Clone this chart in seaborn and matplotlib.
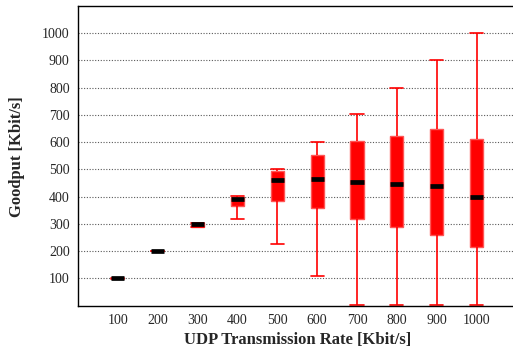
import numpy as np
import pandas as pd
import matplotlib
matplotlib.use("Agg")
import matplotlib.pyplot as plt
import seaborn as sns

rates = [100, 200, 300, 400, 500, 600, 700, 800, 900, 1000]
w_low = [99, 199, 288, 319, 225, 110, 2, 2, 2, 2]
q1 = [99.5, 199.5, 290, 365, 384, 359, 318, 290, 259, 214]
median = [100, 200, 298, 392, 460, 464, 455, 447, 439, 400]
q3 = [100.5, 200.5, 302, 400, 494, 554, 604, 624, 647, 612]
w_high = [101, 201, 302, 402, 503, 601, 702, 800, 900, 1000]
yticks = [100, 200, 300, 400, 500, 600, 700, 800, 900, 1000]

rows = []
for r, a, b, c, d, e in zip(rates, w_low, q1, median, q3, w_high):
    for v in (a, b, c, d, e):
        rows.append({"rate": r, "goodput": v})
df = pd.DataFrame(rows)

sns.set_style("white")
plt.rcParams["font.family"] = ["Liberation Serif", "DejaVu Serif"]

fig = plt.figure(figsize=(5.13, 3.47), dpi=100)
ax = fig.add_axes([78 / 513, 41.5 / 347, 438.5 / 513, 299.5 / 347])

sns.boxplot(
    data=df, x="rate", y="goodput", native_scale=True, whis=np.inf,
    width=0.33, color="red", linecolor="red", linewidth=1.0,
    medianprops=dict(color="black", linewidth=3.4, solid_capstyle="butt"),
    whiskerprops=dict(color="red", linewidth=1.2),
    capprops=dict(color="red", linewidth=1.2),
    boxprops=dict(facecolor="red", edgecolor="#ff5555"),
    showfliers=False, capwidths=33, ax=ax,
)

ax.set_xlim(0, 1100)
ax.set_ylim(0, 1100)
ax.set_xticks(rates)
ax.set_xticklabels([str(r) for r in rates])
ax.set_yticks(yticks)
ax.set_yticklabels([str(t) for t in yticks])
ax.tick_params(axis="both", length=0, labelsize=10, pad=6)
ax.yaxis.grid(True, linestyle=(0, (1, 1.5)), color="0.35", linewidth=0.8)
ax.xaxis.grid(False)
ax.set_axisbelow(True)
for s in ["top", "left", "bottom"]:
    ax.spines[s].set_visible(True)
    ax.spines[s].set_color("black")
    ax.spines[s].set_linewidth(1.0)
ax.spines["right"].set_visible(False)

ax.set_xlabel("UDP Transmission Rate [Kbit/s]", fontsize=12, fontweight="bold")
ax.set_ylabel("Goodput [Kbit/s]", fontsize=12, fontweight="bold")
ax.xaxis.set_label_coords(0.5, -0.09)
ax.yaxis.set_label_coords(-0.121, 0.496)

fig.savefig("out.png", dpi=100)
